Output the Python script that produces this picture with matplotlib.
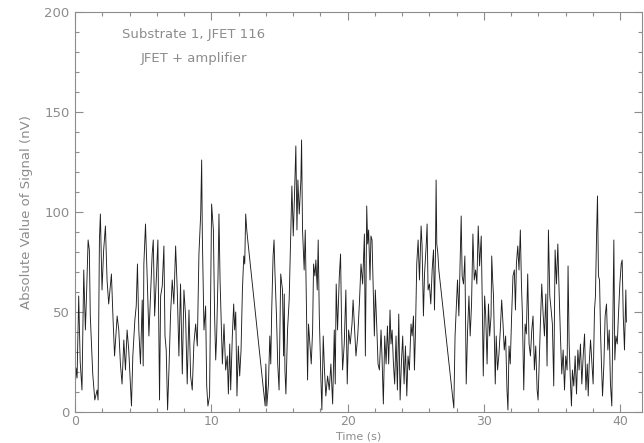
import matplotlib
matplotlib.use('Agg')
import matplotlib.pyplot as plt
from matplotlib.ticker import MultipleLocator

# signal (time in s, |signal| in nV)
time_s = [
    0.00, 0.08, 0.15, 0.27, 0.38, 0.51, 0.64, 0.76, 0.85, 0.96, 1.05, 1.12, 1.30, 1.45, 1.62, 1.69,
    1.79, 1.86, 1.98, 2.10, 2.23, 2.35, 2.47, 2.67, 2.78, 2.90, 3.09, 3.21, 3.33, 3.45, 3.58, 3.70,
    3.82, 3.94, 4.14, 4.24, 4.39, 4.49, 4.58, 4.68, 4.80, 4.93, 5.00, 5.05, 5.17, 5.30, 5.42, 5.54,
    5.66, 5.74, 5.84, 5.96, 6.08, 6.20, 6.28, 6.40, 6.52, 6.60, 6.69, 6.79, 6.89, 7.01, 7.13, 7.25,
    7.38, 7.50, 7.62, 7.74, 7.87, 7.99, 8.11, 8.23, 8.36, 8.48, 8.60, 8.72, 8.85, 8.97, 9.09, 9.22,
    9.29, 9.34, 9.46, 9.58, 9.66, 9.75, 9.87, 9.95, 10.02, 10.15, 10.24, 10.32, 10.39, 10.49, 10.56, 10.64,
    10.74, 10.81, 10.93, 11.05, 11.17, 11.25, 11.35, 11.42, 11.54, 11.64, 11.71, 11.79, 11.88, 11.98, 12.08, 12.18,
    12.28, 12.38, 12.45, 12.52, 12.60, 12.67, 13.95, 14.00, 14.07, 14.19, 14.29, 14.36, 14.43, 14.53, 14.60, 14.67,
    14.78, 14.87, 14.97, 15.09, 15.22, 15.30, 15.35, 15.40, 15.47, 15.59, 15.71, 15.83, 15.91, 16.01, 16.10, 16.20,
    16.28, 16.35, 16.45, 16.57, 16.62, 16.69, 16.81, 16.89, 16.99, 17.06, 17.13, 17.23, 17.33, 17.43, 17.50, 17.60,
    17.67, 17.77, 17.84, 17.92, 18.04, 18.11, 18.21, 18.30, 18.40, 18.53, 18.65, 18.77, 18.90, 19.02, 19.09, 19.16,
    19.26, 19.39, 19.48, 19.56, 19.63, 19.75, 19.87, 19.97, 20.07, 20.19, 20.32, 20.40, 20.49, 20.61, 20.74, 20.86,
    20.98, 21.10, 21.23, 21.30, 21.40, 21.47, 21.54, 21.64, 21.71, 21.79, 21.89, 21.96, 22.03, 22.13, 22.23, 22.33,
    22.45, 22.52, 22.62, 22.72, 22.82, 22.92, 23.01, 23.11, 23.18, 23.26, 23.36, 23.45, 23.55, 23.65, 23.75, 23.85,
    23.94, 24.04, 24.14, 24.24, 24.34, 24.43, 24.53, 24.65, 24.73, 24.83, 24.90, 24.97, 25.07, 25.17, 25.27, 25.39,
    25.46, 25.56, 25.64, 25.76, 25.83, 25.90, 26.00, 26.10, 26.20, 26.30, 26.37, 26.44, 26.49, 26.54, 26.62, 26.69,
    27.79, 27.88, 27.96, 28.06, 28.16, 28.26, 28.33, 28.40, 28.50, 28.60, 28.70, 28.80, 28.90, 28.99, 29.09, 29.19,
    29.29, 29.39, 29.48, 29.58, 29.68, 29.80, 29.88, 29.95, 30.05, 30.13, 30.23, 30.33, 30.42, 30.52, 30.57, 30.64,
    30.70, 30.83, 30.90, 31.00, 31.10, 31.20, 31.30, 31.40, 31.49, 31.59, 31.69, 31.76, 31.84, 31.93, 32.03, 32.13,
    32.23, 32.31, 32.38, 32.48, 32.57, 32.67, 32.75, 32.82, 32.92, 33.02, 33.11, 33.21, 33.31, 33.41, 33.51, 33.60,
    33.70, 33.80, 33.90, 33.97, 34.05, 34.14, 34.24, 34.34, 34.44, 34.54, 34.63, 34.73, 34.83, 34.93, 35.02, 35.12,
    35.22, 35.32, 35.42, 35.51, 35.61, 35.71, 35.81, 35.91, 36.00, 36.10, 36.17, 36.25, 36.35, 36.42, 36.49, 36.59,
    36.69, 36.79, 36.89, 36.98, 37.08, 37.18, 37.28, 37.38, 37.48, 37.58, 37.65, 37.72, 37.82, 37.92, 38.01, 38.11,
    38.18, 38.26, 38.33, 38.40, 38.48, 38.55, 38.62, 38.70, 38.80, 38.89, 38.99, 39.09, 39.19, 39.28, 39.38, 39.48,
    39.53, 39.60, 39.68, 39.78, 39.87, 39.97, 40.07, 40.14, 40.22, 40.31, 40.41, 40.45,
]
signal_nV = [
    10, 22, 17, 58, 25, 11, 71, 41, 60, 86, 81, 48, 19, 6, 11, 6,
    86, 99, 61, 81, 93, 66, 54, 69, 48, 28, 48, 41, 24, 14, 36, 21,
    41, 31, 3, 28, 46, 53, 74, 41, 24, 56, 23, 74, 94, 66, 38, 58,
    79, 86, 48, 66, 86, 6, 58, 63, 83, 38, 31, 1, 21, 49, 66, 54,
    83, 61, 28, 64, 19, 61, 48, 14, 51, 18, 11, 34, 44, 33, 79, 99,
    126, 88, 41, 53, 13, 3, 8, 58, 104, 91, 48, 26, 38, 68, 99, 66,
    41, 24, 44, 21, 28, 9, 34, 11, 38, 54, 41, 50, 8, 33, 18, 31,
    61, 78, 74, 99, 91, 86, 3, 24, 3, 14, 38, 24, 51, 78, 86, 69,
    48, 24, 11, 69, 61, 28, 59, 21, 9, 41, 56, 91, 113, 88, 108, 133,
    91, 116, 99, 116, 136, 91, 71, 91, 48, 16, 44, 34, 24, 41, 74, 68,
    76, 61, 86, 48, 16, 1, 38, 21, 8, 18, 11, 24, 4, 41, 14, 64,
    41, 68, 79, 41, 21, 34, 61, 14, 41, 34, 44, 56, 44, 28, 38, 54,
    74, 64, 89, 28, 103, 84, 91, 66, 88, 86, 58, 38, 61, 44, 24, 21,
    41, 28, 4, 38, 24, 43, 24, 51, 34, 41, 24, 14, 38, 11, 49, 6,
    24, 38, 14, 33, 8, 28, 21, 44, 38, 48, 21, 38, 74, 86, 66, 93,
    83, 48, 69, 83, 94, 61, 64, 54, 71, 81, 51, 78, 116, 84, 79, 71,
    2, 38, 51, 66, 48, 78, 98, 68, 64, 78, 14, 41, 58, 38, 54, 89,
    66, 71, 64, 93, 73, 88, 53, 18, 58, 48, 24, 54, 38, 48, 78, 66,
    58, 14, 38, 21, 29, 41, 56, 44, 31, 38, 11, 1, 33, 24, 48, 68,
    71, 51, 74, 83, 71, 91, 64, 49, 11, 44, 39, 69, 34, 28, 41, 48,
    21, 33, 11, 6, 24, 44, 64, 49, 38, 59, 23, 91, 58, 51, 44, 13,
    81, 64, 84, 61, 38, 19, 31, 11, 28, 21, 73, 34, 14, 3, 21, 13,
    28, 9, 31, 21, 34, 14, 28, 39, 11, 24, 8, 24, 36, 24, 14, 51,
    58, 88, 108, 68, 66, 41, 24, 8, 24, 48, 54, 31, 41, 14, 3, 58,
    86, 26, 38, 34, 49, 64, 74, 76, 48, 31, 61, 45,
]

grey = '#8c8c8c'
plt.rcParams['font.family'] = 'DejaVu Sans'

fig = plt.figure(figsize=(6.44, 4.43), dpi=100)
ax = fig.add_axes([0.1165, 0.07, 0.8805, 0.903])
ax.plot(time_s, signal_nV, color='#1e1e1e', lw=0.65)

ax.set_xlim(0, 41.6)
ax.set_ylim(0, 200)
ax.xaxis.set_major_locator(MultipleLocator(10))
ax.xaxis.set_minor_locator(MultipleLocator(2))
ax.yaxis.set_major_locator(MultipleLocator(50))
ax.yaxis.set_minor_locator(MultipleLocator(10))
ax.tick_params(which='both', direction='in', top=True, right=True, color=grey,
               labelcolor=grey, labelsize=9.5, width=0.8)
ax.tick_params(which='major', length=6, pad=4)
ax.tick_params(axis='x', which='major', labelsize=9, pad=2)
ax.tick_params(which='minor', length=3)
for s in ax.spines.values():
    s.set_color(grey)
    s.set_linewidth(0.8)

ax.set_xlabel('Time (s)', color=grey, fontsize=8)
ax.xaxis.label.set_va('bottom')
ax.xaxis.set_label_coords(0.5, -0.074)
ax.set_ylabel('Absolute Value of Signal (nV)', color=grey, fontsize=9.5, labelpad=8)

ax.text(3.45, 188.5, 'Substrate 1, JFET 116', color=grey, fontsize=9.5, va='center')
ax.text(4.8, 176.5, 'JFET + amplifier', color=grey, fontsize=9.5, va='center')

fig.savefig('out.png', dpi=100)
